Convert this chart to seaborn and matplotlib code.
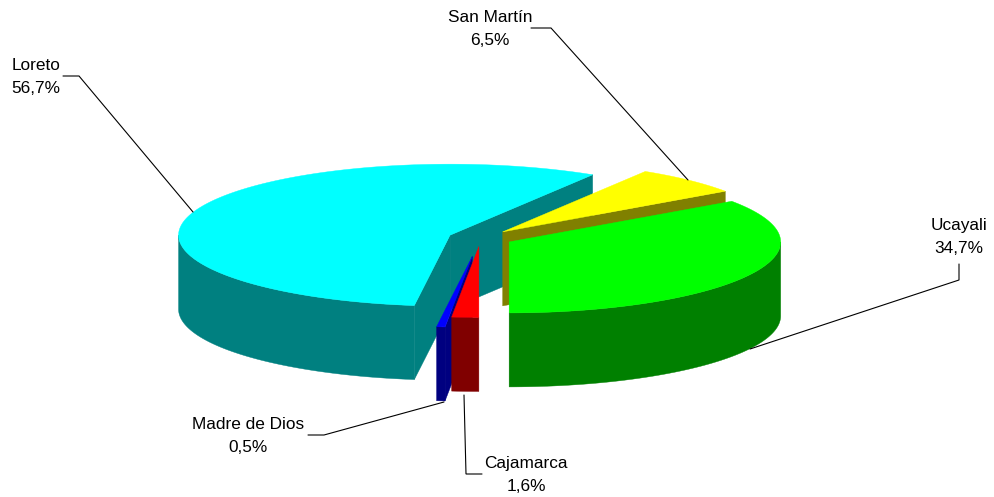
import numpy as np
import matplotlib
matplotlib.use("Agg")
import matplotlib.pyplot as plt
import pandas as pd
import seaborn as sns
from matplotlib.patches import Polygon

# data
regions = ["Ucayali", "San Martín", "Loreto", "Madre de Dios", "Cajamarca"]
shares = [34.7, 6.5, 56.7, 0.5, 1.6]

# look of the slices
top_colors = ["#00ff00", "#ffff00", "#00ffff", "#0000ff", "#ff0000"]
side_colors = ["#008000", "#808000", "#008080", "#000080", "#800000"]
offsets = [0.119, 0.119, 0.119, 0.26, 0.119]
draw_order = ["Loreto", "San Martín", "Ucayali", "Madre de Dios", "Cajamarca"]

# pie geometry in pixels
CX, CY = 480.5, 238.0
RX, RY = 271.5, 71.0
DEPTH = 74.0
START_ANGLE = -90.0

sns.set_theme(style="white")
plt.rcParams["font.family"] = ["Liberation Sans", "DejaVu Sans"]


def rim(ox, oy, a0, a1, drop=0.0):
    t = np.radians(np.linspace(a0, a1, max(int(abs(a1 - a0) * 2), 2)))
    return np.column_stack([ox + RX * np.cos(t), oy - RY * np.sin(t) + drop])


def add_face(ax, pts, color):
    ax.add_patch(Polygon(pts, closed=True, facecolor=color, edgecolor=color, linewidth=0.3))


def cut_face(ax, ox, oy, angle, color):
    edge = rim(ox, oy, angle, angle)[0]
    add_face(ax, [(ox, oy), edge, edge + [0, DEPTH], (ox, oy + DEPTH)], color)


def draw_slice(ax, row):
    mid = np.radians((row.a0 + row.a1) / 2)
    ox = CX + row.offset * RX * np.cos(mid)
    oy = CY - row.offset * RY * np.sin(mid)

    # only faces turned towards the viewer
    if np.cos(np.radians(row.a0)) > 1e-6:
        cut_face(ax, ox, oy, row.a0, row.side)
    if np.cos(np.radians(row.a1)) < -1e-6:
        cut_face(ax, ox, oy, row.a1, row.side)

    # outer wall, front half of the ellipse only
    for lo, hi in [(-180, 0), (180, 360)]:
        a0, a1 = max(row.a0, lo), min(row.a1, hi)
        if a1 > a0:
            upper = rim(ox, oy, a0, a1)
            lower = rim(ox, oy, a0, a1, DEPTH)
            add_face(ax, np.vstack([upper, lower[::-1]]), row.side)

    add_face(ax, np.vstack([[(ox, oy)], rim(ox, oy, row.a0, row.a1)]), row.top)


df = pd.DataFrame({"region": regions, "share": shares, "top": top_colors,
                   "side": side_colors, "offset": offsets})
df["a0"] = START_ANGLE + df["share"].cumsum().shift(fill_value=0) * 3.6
df["a1"] = START_ANGLE + df["share"].cumsum() * 3.6
df["label"] = df["region"] + "\n" + df["share"].map(lambda v: f"{v:.1f}".replace(".", ",")) + "%"
df = df.set_index("region")

fig, ax = plt.subplots(figsize=(9.94, 4.97), dpi=100)
fig.subplots_adjust(0, 0, 1, 1)
ax.set_xlim(0, 994)
ax.set_ylim(497, 0)
ax.axis("off")
sns.despine(ax=ax, left=True, bottom=True)

for name in draw_order:
    draw_slice(ax, df.loc[name])

# labels and their leader lines
callouts = {
    "Loreto": ((36, 77), [(63, 76), (79, 76), (193, 212)]),
    "San Martín": ((490, 29), [(531, 28), (551, 28), (688, 180)]),
    "Ucayali": ((959, 237), [(959, 264), (959, 280), (750, 349)]),
    "Madre de Dios": ((248, 436), [(308, 435), (324, 435), (444, 402)]),
    "Cajamarca": ((526, 475), [(482, 474), (466, 474), (464, 395)]),
}
for name, (pos, line) in callouts.items():
    ax.text(pos[0], pos[1], df.loc[name, "label"], ha="center", va="center",
            fontsize=12.4, color="black", linespacing=1.7)
    xs, ys = zip(*line)
    ax.plot(xs, ys, color="black", linewidth=0.8, solid_joinstyle="miter")

fig.savefig("out.png", dpi=100)
